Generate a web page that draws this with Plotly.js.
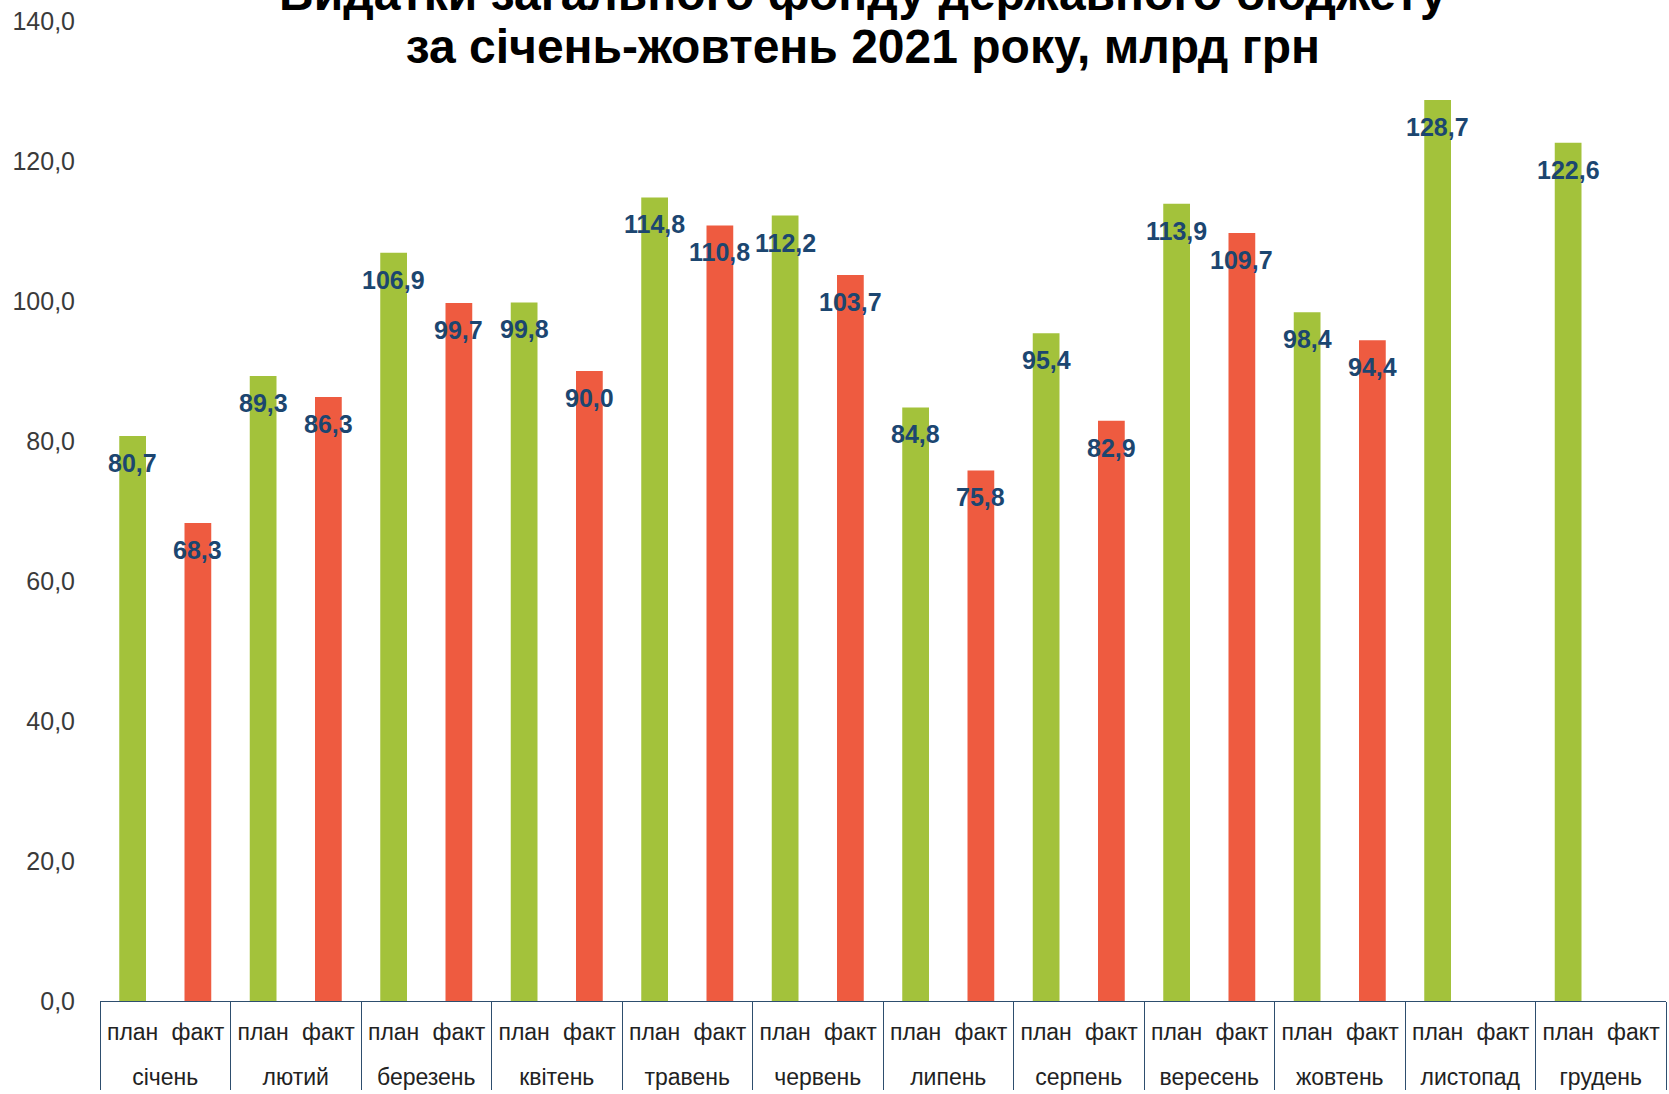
<!DOCTYPE html>
<html>
<head>
<meta charset="utf-8">
<script src="https://cdn.plot.ly/plotly-3.0.1.min.js"></script>
<style>html,body{margin:0;padding:0;background:#fff;}#chart{width:1669px;height:1094px;}</style>
</head>
<body>
<div id="chart"></div>
<script>
const months = ["січень","лютий","березень","квітень","травень","червень","липень","серпень","вересень","жовтень","листопад","грудень"];
const kinds = ["план","факт"];
const plan = [80.7, 89.3, 106.9, 99.8, 114.8, 112.2, 84.8, 95.4, 113.9, 98.4, 128.7, 122.6];
const fact = [68.3, 86.3, 99.7, 90.0, 110.8, 103.7, 75.8, 82.9, 109.7, 94.4, null, null];
const yTicks = [0, 20, 40, 60, 80, 100, 120, 140];
const titleLine1 = "Видатки загального фонду державного бюджету";
const titleLine2 = "за січень-жовтень 2021 року, млрд грн";

const colorPlan = "#A3C23B";
const colorFact = "#EE5B40";
const labelColor = "#1C4670";
const FONT = "Liberation Sans, Arial, sans-serif";

// invisible spacer that only enlarges the label box (so month row sits lower)
const pad = "<span style='font-size:48px'>&nbsp;</span>";

const outer = [], inner = [], yv = [], cols = [];
months.forEach((m, i) => {
  [plan[i], fact[i]].forEach((v, k) => {
    outer.push(m); inner.push(pad + kinds[k] + pad); yv.push(v);
    cols.push(k === 0 ? colorPlan : colorFact);
  });
});

const fmt = v => v.toFixed(1).replace(".", ",");
const annotations = [];
yv.forEach((v, idx) => {
  if (v === null) return;
  annotations.push({
    x: idx, y: v, xref: "x", yref: "y",
    text: fmt(v), showarrow: false,
    yanchor: "middle", xanchor: "center", yshift: -27,
    font: {family: FONT, size: 25, color: labelColor, weight: "bold"}
  });
});
// first title line, mostly cut off by the top edge as in the original
annotations.push({
  xref: "paper", yref: "paper", x: 0.487, y: 1, yanchor: "bottom", yshift: -1,
  xanchor: "center", showarrow: false, text: titleLine1,
  font: {family: FONT, size: 48, color: "#000000", weight: "bold"}
});

const trace = {
  type: "bar",
  x: [outer, inner],
  y: yv,
  marker: {color: cols},
  hoverinfo: "y",
  showlegend: false
};

const layout = {
  width: 1669, height: 1094,
  paper_bgcolor: "#ffffff", plot_bgcolor: "#ffffff",
  margin: {l: 100, r: 3, t: 21, b: 93},
  bargap: 0.59,
  separators: ", ",
  font: {family: FONT, color: "#222222"},
  title: {
    text: titleLine2,
    font: {family: FONT, size: 48, color: "#000000", weight: "bold"},
    xref: "container", x: 0.517, xanchor: "center",
    yref: "container", y: 0.9424, yanchor: "bottom"
  },
  xaxis: {
    type: "multicategory",
    showline: true, linecolor: "#2E4E6E", linewidth: 1,
    showdividers: true, dividercolor: "#2E4E6E", dividerwidth: 1,
    showgrid: false, zeroline: false,
    tickangle: 0,
    ticklabelstandoff: 10,
    tickfont: {size: 23, color: "#222222"},
    fixedrange: true
  },
  yaxis: {
    range: [0, 140],
    tickvals: yTicks,
    tickformat: ".1f",
    showgrid: false, zeroline: false, showline: false,
    ticks: "",
    ticklabelstandoff: 24,
    tickfont: {size: 25, color: "#3A3A3A"},
    fixedrange: true
  },
  annotations: annotations
};

Plotly.newPlot("chart", [trace], layout, {displayModeBar: false, responsive: false});
</script>
</body>
</html>
